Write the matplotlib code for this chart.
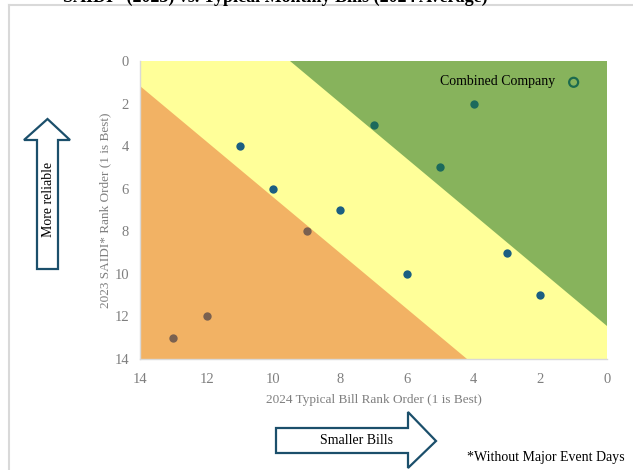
import matplotlib.pyplot as plt
from matplotlib.patches import Polygon
from matplotlib.lines import Line2D

plt.rcParams["font.family"] = ["Liberation Serif", "DejaVu Serif"]

# Data
bill_rank = [11, 10, 8, 6, 3, 2]
saidi_rank = [4, 6, 7, 10, 9, 11]
top_bill = [4, 7, 5]
top_saidi = [2, 3, 5]
low_bill = [9, 12, 13]
low_saidi = [8, 12, 13]
combined_bill = [1]
combined_saidi = [1]

# zone boundaries (bill rank, saidi rank)
orange_zone = [(14, 1.16), (14, 14), (4.19, 14)]
green_zone = [(9.51, 0), (0, 0), (0, 12.44)]

W, H = 633, 470
fig = plt.figure(figsize=(W / 100, H / 100), dpi=100)


def px(x, y):
    return (x / W, 1 - y / H)


ax = fig.add_axes([140 / W, 1 - 359 / H, (607 - 140) / W, (359 - 61) / H])
ax.set_facecolor("#FFFF99")
ax.add_patch(Polygon(orange_zone, closed=True, facecolor="#F2B264", edgecolor="none", zorder=1))
ax.add_patch(Polygon(green_zone, closed=True, facecolor="#87B35C", edgecolor="none", zorder=1))

ax.scatter(bill_rank, saidi_rank, s=36, color="#1B5F82", zorder=3, linewidths=0)
ax.scatter(top_bill, top_saidi, s=36, color="#1C6A5C", zorder=3, linewidths=0)
ax.scatter(low_bill, low_saidi, s=36, color="#7A6150", zorder=3, linewidths=0)
ax.scatter(combined_bill, combined_saidi, s=42, facecolor="none",
           edgecolor="#1C6A4E", linewidths=1.6, zorder=3)
ax.text(combined_bill[0] + 0.55, combined_saidi[0] - 0.05, "Combined Company",
        ha="right", va="center", fontsize=10, color="black", zorder=4)

ax.set_xlim(14, 0)
ax.set_ylim(14, 0)
ax.set_xticks(range(14, -1, -2))
ax.set_yticks(range(0, 15, 2))
ax.tick_params(length=0, labelsize=10.5, labelcolor="#7F7F7F")
ax.tick_params(axis="y", pad=8)
ax.tick_params(axis="x", pad=10)
for s in ["top", "right"]:
    ax.spines[s].set_visible(False)
for s in ["left", "bottom"]:
    ax.spines[s].set_color("#D9D9D9")
    ax.spines[s].set_linewidth(1)
    ax.spines[s].set_zorder(5)

ax.set_xlabel("2024 Typical Bill Rank Order (1 is Best)", fontsize=9.5, color="#7F7F7F", labelpad=6)
ax.set_ylabel("2023 SAIDI* Rank Order (1 is Best)", fontsize=9.5, color="#7F7F7F", labelpad=2)

# chart frame
fig.add_artist(Line2D([9 / W, 1], [1 - 5 / H] * 2, color="#D9D9D9", lw=1.5))
fig.add_artist(Line2D([9 / W] * 2, [0, 1 - 5 / H], color="#D9D9D9", lw=1.5))

# cut-off title
fig.text(275 / W, 1 - 2 / H, "SAIDI* (2023) vs. Typical Monthly Bills (2024 Average)",
         ha="center", va="baseline", fontsize=13, fontweight="bold")

# arrows
arrow_col = "#1B4F6B"
up = [(47.5, 119), (70, 140), (58, 140), (58, 269), (37, 269), (37, 140), (24, 140)]
fig.add_artist(Polygon([px(*p) for p in up], closed=True, transform=fig.transFigure,
                       facecolor="white", edgecolor=arrow_col, lw=1.6))
fig.text(*px(48, 199), "More reliable", rotation=90, ha="center", va="center", fontsize=10)

right = [(276, 428), (408, 428), (408, 412), (436, 441), (408, 468), (408, 453), (276, 453)]
fig.add_artist(Polygon([px(*p) for p in right], closed=True, transform=fig.transFigure,
                       facecolor="white", edgecolor=arrow_col, lw=1.6))
fig.text(*px(356, 441), "Smaller Bills", ha="center", va="center", fontsize=10)

fig.text(*px(467, 458), "*Without Major Event Days", ha="left", va="center", fontsize=10)

fig.savefig("out.png", dpi=100)
